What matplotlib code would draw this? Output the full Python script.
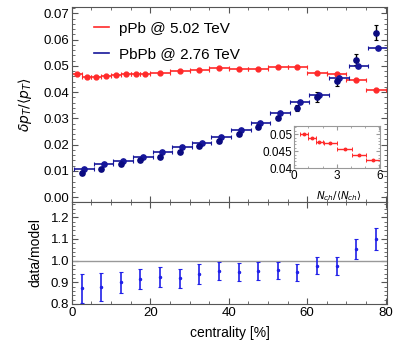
import numpy as np
import matplotlib.pyplot as plt
from matplotlib.ticker import MultipleLocator

plt.rcParams['font.family'] = ['Liberation Sans', 'DejaVu Sans']
plt.rcParams['mathtext.fontset'] = 'dejavusans'

# pPb @ 5.02 TeV, main panel
ppb_cent = [1.25, 3.75, 6.25, 8.75, 11.25, 13.75, 16.25, 18.75,
            22.5, 27.5, 32.5, 37.5, 42.5, 47.5, 52.5, 57.5, 62.5, 67.5, 72.5, 77.5]
ppb_halfw = [1.25]*8 + [2.5]*12
ppb_val = [0.0468, 0.0458, 0.0459, 0.0463, 0.0466, 0.0468, 0.0471, 0.0468,
           0.0473, 0.0480, 0.0483, 0.0491, 0.0490, 0.0488, 0.0494, 0.0494,
           0.0474, 0.0471, 0.0447, 0.0410]

# PbPb @ 2.76 TeV
cent = [2.5, 7.5, 12.5, 17.5, 22.5, 27.5, 32.5, 37.5,
        42.5, 47.5, 52.5, 57.5, 62.5, 67.5, 72.5, 77.5]
pbpb_data = [0.0092, 0.0107, 0.0125, 0.0140, 0.0155, 0.0174, 0.0194, 0.0214,
             0.0240, 0.0269, 0.0302, 0.0341, 0.0382, 0.0443, 0.0524, 0.0626]
pbpb_err = [0.0006, 0.0006, 0.0006, 0.0006, 0.0006, 0.0007, 0.0007, 0.0007,
            0.0008, 0.0008, 0.0009, 0.0012, 0.0019, 0.0020, 0.0022, 0.0029]
pbpb_model = [0.0107, 0.0126, 0.0139, 0.0155, 0.0171, 0.0190, 0.0208, 0.0228,
              0.0256, 0.0283, 0.0319, 0.0362, 0.0391, 0.0455, 0.0500, 0.0568]

# data/model ratio
ratio = [0.872, 0.878, 0.900, 0.915, 0.923, 0.918, 0.938, 0.952,
         0.948, 0.953, 0.955, 0.947, 0.977, 0.975, 1.052, 1.101]
ratio_err = [0.066, 0.064, 0.049, 0.048, 0.046, 0.045, 0.044, 0.041,
             0.042, 0.041, 0.040, 0.039, 0.041, 0.040, 0.046, 0.050]

# inset: pPb vs Nch/<Nch>
nch = [0.7, 1.22, 1.78, 2.55, 3.55, 4.57, 5.57]
nch_halfw = [0.28, 0.28, 0.28, 0.48, 0.52, 0.5, 0.5]
nch_val = [0.0500, 0.0490, 0.0477, 0.0474, 0.0456, 0.0439, 0.0425]

red = '#ff2a2a'
navy = '#16169a'
dark = '#0a0a80'

fig = plt.figure(figsize=(3.95, 3.51), dpi=100)
ax = fig.add_axes([0.182, 0.4245, 0.798, 0.5555])
ax2 = fig.add_axes([0.182, 0.134, 0.798, 0.2905])


def frame(a, col='#555555'):
    for s in a.spines.values():
        s.set_color(col)
        s.set_linewidth(0.8)
    a.tick_params(which='both', direction='in', top=True, right=True,
                  color=col, labelsize=9.5, pad=2)
    a.tick_params(which='major', length=4)
    a.tick_params(which='minor', length=2)


# main panel
ax.errorbar(ppb_cent, ppb_val, xerr=ppb_halfw, fmt='o', ms=3.5, color=red,
            ecolor=red, elinewidth=1.2, capsize=1.5, capthick=0.8)
shift = 0.6
ax.errorbar(np.array(cent) + shift, pbpb_model, xerr=2.5, fmt='o', ms=3.8,
            color=navy, ecolor=navy, elinewidth=1.2, capsize=1.5, capthick=0.8)
ax.errorbar(cent, pbpb_data, yerr=pbpb_err, fmt='o', ms=3.8, color=dark,
            ecolor='black', elinewidth=1.0, capsize=1.5, capthick=0.8)
ax.plot([], [], color=red, lw=1.2, label='pPb @ 5.02 TeV')
ax.plot([], [], color=navy, lw=1.2, label='PbPb @ 2.76 TeV')
ax.legend(loc='upper left', bbox_to_anchor=(0.025, 0.995), frameon=False,
          handlelength=1.0, labelspacing=0.75, fontsize=11, handletextpad=0.7)
ax.set_xlim(0, 80.4)
ax.set_ylim(-0.0018, 0.0724)
ax.yaxis.set_minor_locator(MultipleLocator(0.002))
ax.xaxis.set_major_locator(MultipleLocator(20))
ax.xaxis.set_minor_locator(MultipleLocator(5))
ax.set_yticks(np.arange(0, 0.071, 0.01))
ax.set_yticklabels(['%.2f' % v for v in np.arange(0, 0.071, 0.01)])
ax.tick_params(labelbottom=False)
frame(ax)
ax.set_ylabel(r'$\delta p_T/\langle p_T\rangle$', fontsize=10)
ax.yaxis.set_label_coords(-0.12, 0.5)

# ratio panel
ax2.axhline(1.0, color='#999999', lw=1.0)
ax2.errorbar(cent, ratio, yerr=ratio_err, fmt='o', ms=1.5, color='#2020e8',
             ecolor='#2020e8', elinewidth=1.2, capsize=1.5, capthick=0.8)
ax2.set_xlim(0, 80.4)
ax2.set_ylim(0.8, 1.27)
ax2.yaxis.set_minor_locator(MultipleLocator(0.02))
ax2.xaxis.set_major_locator(MultipleLocator(20))
ax2.xaxis.set_minor_locator(MultipleLocator(5))
frame(ax2)
ax2.set_yticks([0.8, 0.9, 1.0, 1.1, 1.2])
ax2.set_yticklabels(['0.8', '0.9', '1.0', '1.1', '1.2'])
ax2.set_ylabel('data/model', fontsize=10)
ax2.yaxis.set_label_coords(-0.095, 0.5)
ax2.set_xlabel('centrality [%]', fontsize=10, labelpad=5)

# inset
axi = fig.add_axes([0.745, 0.521, 0.217, 0.120])
axi.errorbar(nch, nch_val, xerr=nch_halfw, fmt='o', ms=1.8, color=red,
             ecolor=red, elinewidth=1.0, capsize=1.2, capthick=0.7)
axi.set_xlim(0, 6.05)
axi.set_ylim(0.04, 0.0524)
frame(axi, '#999999')
axi.tick_params(labelsize=8.5, pad=1.5)
axi.tick_params(which='major', length=3)
axi.tick_params(which='minor', length=1.5)
axi.set_xticks([0, 3, 6])
axi.xaxis.set_minor_locator(MultipleLocator(1))
axi.set_yticks([0.04, 0.045, 0.05])
axi.set_yticklabels(['0.04', '0.045', '0.05'])
axi.yaxis.set_minor_locator(MultipleLocator(0.001))
fig.text(0.858, 0.442, r'$N_{ch}/\langle N_{ch}\rangle$', fontsize=7.5,
         ha='center', va='center')

fig.savefig('out.png', dpi=100)
